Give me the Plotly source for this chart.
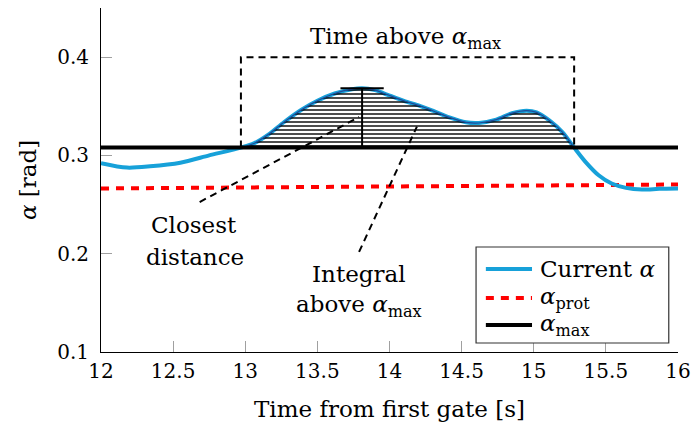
import numpy as np
import plotly.graph_objects as go

# Measured angle of attack around the gate passage
time = [12.00, 12.18, 12.34, 12.55, 12.75, 12.97, 13.06, 13.16, 13.27, 13.39,
        13.50, 13.62, 13.74, 13.81, 13.90, 13.965, 14.10, 14.21, 14.30, 14.415,
        14.53, 14.62, 14.74, 14.85, 14.95, 15.02, 15.11, 15.20, 15.28, 15.36,
        15.45, 15.54, 15.64, 15.75, 15.87, 16.00]
alpha = [0.2922, 0.2876, 0.2889, 0.2926, 0.3000, 0.3080, 0.3122, 0.3212, 0.3340, 0.3465,
         0.3556, 0.3630, 0.3674, 0.3684, 0.3664, 0.3630, 0.3556, 0.3505, 0.3455, 0.3387,
         0.3337, 0.3330, 0.3364, 0.3430, 0.3455, 0.3438, 0.3354, 0.3235, 0.3080, 0.2932,
         0.2798, 0.2714, 0.2670, 0.2653, 0.2660, 0.2664]

# Protection threshold and maximum allowed angle
prot_time = [12.0, 16.0]
prot_alpha = [0.2664, 0.2704]
alpha_max = 0.308

x_ticks = [12, 12.5, 13, 13.5, 14, 14.5, 15, 15.5, 16]
x_tick_labels = ["12", "12.5", "13", "13.5", "14", "14.5", "15", "15.5", "16"]
y_ticks = [0.1, 0.2, 0.3, 0.4]
y_tick_labels = ["0.1", "0.2", "0.3", "0.4"]

legend_labels = ["Current <i>α</i>", "<i>α</i><sub>prot</sub>", "<i>α</i><sub>max</sub>"]

FONT = "DejaVu Serif"
FS = 23
FS_TICK = 20
BLUE = "#17A1D9"
RED = "#FF0000"

t = np.array(time)
a = np.array(alpha)
above = a >= alpha_max - 1e-9
t_above = t[above]
a_above = a[above]
t_start, t_end = t_above[0], t_above[-1]
i_peak = int(np.argmax(a))
t_peak, a_peak = t[i_peak], a[i_peak]

line_prot = dict(color=RED, width=4, dash="8px,7px")
line_cur = dict(color=BLUE, width=4, shape="spline", smoothing=0.8)
line_max = dict(color="black", width=4)

fig = go.Figure()

fig.add_trace(go.Scatter(x=prot_time, y=prot_alpha, mode="lines",
                         line=line_prot, showlegend=False))
fig.add_trace(go.Scatter(x=time, y=alpha, mode="lines",
                         line=line_cur, showlegend=False))

# Hatched area between the curve and alpha_max
fig.add_trace(go.Scatter(
    x=t_above, y=[alpha_max] * len(t_above), mode="lines",
    line=dict(width=0, color="rgba(0,0,0,0)"), showlegend=False, hoverinfo="skip"))
fig.add_trace(go.Scatter(
    x=t_above, y=a_above, mode="lines", fill="tonexty",
    fillcolor="rgba(0,0,0,0)",
    fillpattern=dict(shape="-", fgcolor="black", fgopacity=1,
                     bgcolor="rgba(0,0,0,0)", size=4, solidity=0.35),
    line=dict(color="#1F4A9A", width=1.2, shape="spline", smoothing=0.8),
    showlegend=False, hoverinfo="skip"))

fig.add_trace(go.Scatter(x=[12, 16], y=[alpha_max, alpha_max], mode="lines",
                         line=line_max, showlegend=False))

dash_style = dict(color="black", width=2, dash="7px,5px")
shapes = [
    # bracket marking the time above alpha_max
    dict(type="path", xref="x", yref="y",
         path=f"M {t_start},{alpha_max} L {t_start},0.4 L {t_end},0.4 L {t_end},{alpha_max}",
         line=dict(color="black", width=2, dash="7px,5px")),
    # closest distance marker
    dict(type="line", xref="x", yref="y", x0=t_peak, x1=t_peak, y0=alpha_max, y1=a_peak,
         line=dict(color="black", width=2)),
    dict(type="line", xref="x", yref="y", x0=t_peak - 0.15, x1=t_peak + 0.15,
         y0=a_peak, y1=a_peak, line=dict(color="black", width=2)),
    # leader lines
    dict(type="line", xref="x", yref="y", x0=12.684, y0=0.2526, x1=13.789, y1=0.3391,
         line=dash_style),
    dict(type="line", xref="x", yref="y", x0=13.789, y0=0.2018, x1=14.19, y1=0.3293,
         line=dash_style),
]

tf = dict(family=FONT, size=FS, color="black")
tick_font = dict(family=FONT, size=FS_TICK, color="black")
annotations = [
    dict(x=14.11, y=0.4195, text="Time above <i>α</i><sub>max</sub>"),
    dict(x=12.643, y=0.2292, text="Closest"),
    dict(x=12.65, y=0.1967, text="distance"),
    dict(x=13.789, y=0.1794, text="Integral"),
    dict(x=13.789, y=0.1468, text="above <i>α</i><sub>max</sub>"),
]
for an in annotations:
    an.update(xref="x", yref="y", showarrow=False, font=tf,
              xanchor="center", yanchor="middle")

# Legend box drawn in paper coordinates
shapes.append(dict(type="rect", xref="paper", yref="paper",
                   x0=0.650, x1=0.984, y0=0.0262, y1=0.3052,
                   line=dict(color="#333333", width=1.2), fillcolor="white",
                   layer="above"))
legend_rows = [0.2413, 0.157, 0.0785]
legend_lines = [dict(color=BLUE, width=4), line_prot, line_max]
for yr, ln, lab in zip(legend_rows, legend_lines, legend_labels):
    shapes.append(dict(type="line", xref="paper", yref="paper",
                       x0=0.667, x1=0.747, y0=yr, y1=yr, line=ln, layer="above"))
    annotations.append(dict(xref="paper", yref="paper", x=0.757, y=yr, text=lab,
                            showarrow=False, font=tf, xanchor="left",
                            yanchor="middle"))

axis_common = dict(
    ticks="inside", ticklen=11, tickwidth=1, tickcolor="#a0a0a0",
    showline=True, linecolor="black", linewidth=1, showgrid=False, zeroline=False,
    tickfont=tick_font, mirror=False, ticklabeloverflow="allow", automargin=False,
)

fig.update_layout(
    width=691, height=425,
    margin=dict(l=101, r=13, t=8, b=73),
    paper_bgcolor="white", plot_bgcolor="white",
    font=tf,
    shapes=shapes, annotations=annotations,
    xaxis=dict(range=[12, 16], tickvals=x_ticks, ticktext=x_tick_labels,
               title=dict(text="Time from first gate [s]", font=tf, standoff=18),
               ticklabelstandoff=1, **axis_common),
    yaxis=dict(range=[0.1, 0.45], tickvals=y_ticks, ticktext=y_tick_labels,
               title=dict(text="<i>α</i> [rad]", font=tf, standoff=14),
               ticklabelstandoff=7, **axis_common),
    showlegend=False,
)

fig.write_html("out.html")
